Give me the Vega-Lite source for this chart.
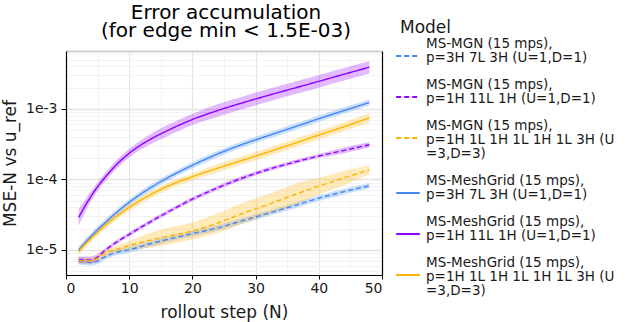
{
  "$schema": "https://vega.github.io/schema/vega-lite/v6.json",
  "width": 316,
  "height": 224,
  "autosize": {"type": "none"},
  "padding": {"left": 66, "top": 51, "right": 244, "bottom": 47},
  "background": "white",
  "config": {
    "font": "DejaVu Sans",
    "view": {"stroke": null},
    "axis": {"labelColor": "#1a1a1a", "titleColor": "#1a1a1a", "titleFontWeight": "normal", "domainColor": "#000000", "tickColor": "#000000"}
  },
  "title": {"text": ["Error accumulation", "(for edge min < 1.5E-03)"], "frame": "group", "fontSize": 20, "fontWeight": "normal", "lineHeight": 18, "offset": 12, "dy": 33, "color": "#000000", "dx": 2},
  "datasets": {
    "series": [
      {"Model": "MS-MGN (15 mps),\np=3H 7L 3H (U=1,D=1)", "N": 2, "v": 6.9e-6, "lo": 6.15e-6, "hi": 7.74e-6},
      {"Model": "MS-MGN (15 mps),\np=3H 7L 3H (U=1,D=1)", "N": 3, "v": 6.8e-6, "lo": 6.06e-6, "hi": 7.63e-6},
      {"Model": "MS-MGN (15 mps),\np=3H 7L 3H (U=1,D=1)", "N": 4, "v": 6.6e-6, "lo": 6.02e-6, "hi": 7.23e-6},
      {"Model": "MS-MGN (15 mps),\np=3H 7L 3H (U=1,D=1)", "N": 5, "v": 6.9e-6, "lo": 6.3e-6, "hi": 7.56e-6},
      {"Model": "MS-MGN (15 mps),\np=3H 7L 3H (U=1,D=1)", "N": 6, "v": 7.8e-6, "lo": 7.12e-6, "hi": 8.55e-6},
      {"Model": "MS-MGN (15 mps),\np=3H 7L 3H (U=1,D=1)", "N": 8, "v": 9.2e-6, "lo": 8.39e-6, "hi": 1.01e-5},
      {"Model": "MS-MGN (15 mps),\np=3H 7L 3H (U=1,D=1)", "N": 10, "v": 1.0e-5, "lo": 9.12e-6, "hi": 1.1e-5},
      {"Model": "MS-MGN (15 mps),\np=3H 7L 3H (U=1,D=1)", "N": 13, "v": 1.2e-5, "lo": 1.09e-5, "hi": 1.32e-5},
      {"Model": "MS-MGN (15 mps),\np=3H 7L 3H (U=1,D=1)", "N": 16, "v": 1.4e-5, "lo": 1.28e-5, "hi": 1.53e-5},
      {"Model": "MS-MGN (15 mps),\np=3H 7L 3H (U=1,D=1)", "N": 20, "v": 1.7e-5, "lo": 1.55e-5, "hi": 1.86e-5},
      {"Model": "MS-MGN (15 mps),\np=3H 7L 3H (U=1,D=1)", "N": 24, "v": 2.05e-5, "lo": 1.87e-5, "hi": 2.25e-5},
      {"Model": "MS-MGN (15 mps),\np=3H 7L 3H (U=1,D=1)", "N": 28, "v": 2.6e-5, "lo": 2.37e-5, "hi": 2.85e-5},
      {"Model": "MS-MGN (15 mps),\np=3H 7L 3H (U=1,D=1)", "N": 32, "v": 3.3e-5, "lo": 3.01e-5, "hi": 3.62e-5},
      {"Model": "MS-MGN (15 mps),\np=3H 7L 3H (U=1,D=1)", "N": 36, "v": 4.2e-5, "lo": 3.83e-5, "hi": 4.6e-5},
      {"Model": "MS-MGN (15 mps),\np=3H 7L 3H (U=1,D=1)", "N": 40, "v": 5.4e-5, "lo": 4.93e-5, "hi": 5.92e-5},
      {"Model": "MS-MGN (15 mps),\np=3H 7L 3H (U=1,D=1)", "N": 44, "v": 6.7e-5, "lo": 6.11e-5, "hi": 7.34e-5},
      {"Model": "MS-MGN (15 mps),\np=3H 7L 3H (U=1,D=1)", "N": 48, "v": 8.1e-5, "lo": 7.39e-5, "hi": 8.88e-5},

      {"Model": "MS-MGN (15 mps),\np=1H 11L 1H (U=1,D=1)", "N": 2, "v": 7.2e-6, "lo": 6.42e-6, "hi": 8.08e-6},
      {"Model": "MS-MGN (15 mps),\np=1H 11L 1H (U=1,D=1)", "N": 3, "v": 7.2e-6, "lo": 6.42e-6, "hi": 8.08e-6},
      {"Model": "MS-MGN (15 mps),\np=1H 11L 1H (U=1,D=1)", "N": 4, "v": 7.2e-6, "lo": 6.42e-6, "hi": 8.08e-6},
      {"Model": "MS-MGN (15 mps),\np=1H 11L 1H (U=1,D=1)", "N": 5, "v": 7.94e-6, "lo": 7.25e-6, "hi": 8.7e-6},
      {"Model": "MS-MGN (15 mps),\np=1H 11L 1H (U=1,D=1)", "N": 6, "v": 9.55e-6, "lo": 8.91e-6, "hi": 1.02e-5},
      {"Model": "MS-MGN (15 mps),\np=1H 11L 1H (U=1,D=1)", "N": 8, "v": 1.29e-5, "lo": 1.2e-5, "hi": 1.38e-5},
      {"Model": "MS-MGN (15 mps),\np=1H 11L 1H (U=1,D=1)", "N": 10, "v": 1.66e-5, "lo": 1.55e-5, "hi": 1.78e-5},
      {"Model": "MS-MGN (15 mps),\np=1H 11L 1H (U=1,D=1)", "N": 13, "v": 2.4e-5, "lo": 2.24e-5, "hi": 2.57e-5},
      {"Model": "MS-MGN (15 mps),\np=1H 11L 1H (U=1,D=1)", "N": 16, "v": 3.39e-5, "lo": 3.16e-5, "hi": 3.63e-5},
      {"Model": "MS-MGN (15 mps),\np=1H 11L 1H (U=1,D=1)", "N": 20, "v": 5.25e-5, "lo": 4.9e-5, "hi": 5.63e-5},
      {"Model": "MS-MGN (15 mps),\np=1H 11L 1H (U=1,D=1)", "N": 24, "v": 7.59e-5, "lo": 7.08e-5, "hi": 8.14e-5},
      {"Model": "MS-MGN (15 mps),\np=1H 11L 1H (U=1,D=1)", "N": 28, "v": 1.05e-4, "lo": 9.79e-5, "hi": 1.13e-4},
      {"Model": "MS-MGN (15 mps),\np=1H 11L 1H (U=1,D=1)", "N": 32, "v": 1.38e-4, "lo": 1.29e-4, "hi": 1.48e-4},
      {"Model": "MS-MGN (15 mps),\np=1H 11L 1H (U=1,D=1)", "N": 36, "v": 1.74e-4, "lo": 1.62e-4, "hi": 1.87e-4},
      {"Model": "MS-MGN (15 mps),\np=1H 11L 1H (U=1,D=1)", "N": 40, "v": 2.14e-4, "lo": 2.0e-4, "hi": 2.29e-4},
      {"Model": "MS-MGN (15 mps),\np=1H 11L 1H (U=1,D=1)", "N": 44, "v": 2.57e-4, "lo": 2.35e-4, "hi": 2.82e-4},
      {"Model": "MS-MGN (15 mps),\np=1H 11L 1H (U=1,D=1)", "N": 48, "v": 3.09e-4, "lo": 2.82e-4, "hi": 3.39e-4},

      {"Model": "MS-MGN (15 mps),\np=1H 1L 1H 1L 1H 1L 3H (U\n=3,D=3)", "N": 2, "v": 7.0e-6, "lo": 6.39e-6, "hi": 7.67e-6},
      {"Model": "MS-MGN (15 mps),\np=1H 1L 1H 1L 1H 1L 3H (U\n=3,D=3)", "N": 3, "v": 7.0e-6, "lo": 6.39e-6, "hi": 7.67e-6},
      {"Model": "MS-MGN (15 mps),\np=1H 1L 1H 1L 1H 1L 3H (U\n=3,D=3)", "N": 4, "v": 7.0e-6, "lo": 6.39e-6, "hi": 7.67e-6},
      {"Model": "MS-MGN (15 mps),\np=1H 1L 1H 1L 1H 1L 3H (U\n=3,D=3)", "N": 5, "v": 7.6e-6, "lo": 6.93e-6, "hi": 8.33e-6},
      {"Model": "MS-MGN (15 mps),\np=1H 1L 1H 1L 1H 1L 3H (U\n=3,D=3)", "N": 6, "v": 8.8e-6, "lo": 7.84e-6, "hi": 9.87e-6},
      {"Model": "MS-MGN (15 mps),\np=1H 1L 1H 1L 1H 1L 3H (U\n=3,D=3)", "N": 8, "v": 1.02e-5, "lo": 9.09e-6, "hi": 1.14e-5},
      {"Model": "MS-MGN (15 mps),\np=1H 1L 1H 1L 1H 1L 3H (U\n=3,D=3)", "N": 10, "v": 1.15e-5, "lo": 1.0e-5, "hi": 1.32e-5},
      {"Model": "MS-MGN (15 mps),\np=1H 1L 1H 1L 1H 1L 3H (U\n=3,D=3)", "N": 13, "v": 1.35e-5, "lo": 1.07e-5, "hi": 1.7e-5},
      {"Model": "MS-MGN (15 mps),\np=1H 1L 1H 1L 1H 1L 3H (U\n=3,D=3)", "N": 16, "v": 1.55e-5, "lo": 1.18e-5, "hi": 2.04e-5},
      {"Model": "MS-MGN (15 mps),\np=1H 1L 1H 1L 1H 1L 3H (U\n=3,D=3)", "N": 20, "v": 1.85e-5, "lo": 1.4e-5, "hi": 2.44e-5},
      {"Model": "MS-MGN (15 mps),\np=1H 1L 1H 1L 1H 1L 3H (U\n=3,D=3)", "N": 24, "v": 2.4e-5, "lo": 1.74e-5, "hi": 3.31e-5},
      {"Model": "MS-MGN (15 mps),\np=1H 1L 1H 1L 1H 1L 3H (U\n=3,D=3)", "N": 28, "v": 3.3e-5, "lo": 2.34e-5, "hi": 4.66e-5},
      {"Model": "MS-MGN (15 mps),\np=1H 1L 1H 1L 1H 1L 3H (U\n=3,D=3)", "N": 32, "v": 4.4e-5, "lo": 3.12e-5, "hi": 6.2e-5},
      {"Model": "MS-MGN (15 mps),\np=1H 1L 1H 1L 1H 1L 3H (U\n=3,D=3)", "N": 36, "v": 6.0e-5, "lo": 4.25e-5, "hi": 8.48e-5},
      {"Model": "MS-MGN (15 mps),\np=1H 1L 1H 1L 1H 1L 3H (U\n=3,D=3)", "N": 40, "v": 8.0e-5, "lo": 6.07e-5, "hi": 1.05e-4},
      {"Model": "MS-MGN (15 mps),\np=1H 1L 1H 1L 1H 1L 3H (U\n=3,D=3)", "N": 44, "v": 1.05e-4, "lo": 8.34e-5, "hi": 1.32e-4},
      {"Model": "MS-MGN (15 mps),\np=1H 1L 1H 1L 1H 1L 3H (U\n=3,D=3)", "N": 48, "v": 1.36e-4, "lo": 1.17e-4, "hi": 1.58e-4},

      {"Model": "MS-MeshGrid (15 mps),\np=3H 7L 3H (U=1,D=1)", "N": 2, "v": 1.0e-5, "lo": 9.0e-6, "hi": 1.11e-5},
      {"Model": "MS-MeshGrid (15 mps),\np=3H 7L 3H (U=1,D=1)", "N": 3, "v": 1.26e-5, "lo": 1.14e-5, "hi": 1.4e-5},
      {"Model": "MS-MeshGrid (15 mps),\np=3H 7L 3H (U=1,D=1)", "N": 4, "v": 1.57e-5, "lo": 1.42e-5, "hi": 1.74e-5},
      {"Model": "MS-MeshGrid (15 mps),\np=3H 7L 3H (U=1,D=1)", "N": 5, "v": 1.93e-5, "lo": 1.74e-5, "hi": 2.14e-5},
      {"Model": "MS-MeshGrid (15 mps),\np=3H 7L 3H (U=1,D=1)", "N": 6, "v": 2.34e-5, "lo": 2.11e-5, "hi": 2.6e-5},
      {"Model": "MS-MeshGrid (15 mps),\np=3H 7L 3H (U=1,D=1)", "N": 8, "v": 3.39e-5, "lo": 3.06e-5, "hi": 3.76e-5},
      {"Model": "MS-MeshGrid (15 mps),\np=3H 7L 3H (U=1,D=1)", "N": 10, "v": 4.72e-5, "lo": 4.26e-5, "hi": 5.23e-5},
      {"Model": "MS-MeshGrid (15 mps),\np=3H 7L 3H (U=1,D=1)", "N": 13, "v": 7.24e-5, "lo": 6.53e-5, "hi": 8.03e-5},
      {"Model": "MS-MeshGrid (15 mps),\np=3H 7L 3H (U=1,D=1)", "N": 16, "v": 1.04e-4, "lo": 9.38e-5, "hi": 1.15e-4},
      {"Model": "MS-MeshGrid (15 mps),\np=3H 7L 3H (U=1,D=1)", "N": 20, "v": 1.58e-4, "lo": 1.42e-4, "hi": 1.75e-4},
      {"Model": "MS-MeshGrid (15 mps),\np=3H 7L 3H (U=1,D=1)", "N": 24, "v": 2.29e-4, "lo": 2.06e-4, "hi": 2.54e-4},
      {"Model": "MS-MeshGrid (15 mps),\np=3H 7L 3H (U=1,D=1)", "N": 28, "v": 3.15e-4, "lo": 2.84e-4, "hi": 3.49e-4},
      {"Model": "MS-MeshGrid (15 mps),\np=3H 7L 3H (U=1,D=1)", "N": 32, "v": 4.16e-4, "lo": 3.75e-4, "hi": 4.61e-4},
      {"Model": "MS-MeshGrid (15 mps),\np=3H 7L 3H (U=1,D=1)", "N": 36, "v": 5.48e-4, "lo": 4.94e-4, "hi": 6.08e-4},
      {"Model": "MS-MeshGrid (15 mps),\np=3H 7L 3H (U=1,D=1)", "N": 40, "v": 7.23e-4, "lo": 6.52e-4, "hi": 8.02e-4},
      {"Model": "MS-MeshGrid (15 mps),\np=3H 7L 3H (U=1,D=1)", "N": 44, "v": 9.44e-4, "lo": 8.51e-4, "hi": 1.05e-3},
      {"Model": "MS-MeshGrid (15 mps),\np=3H 7L 3H (U=1,D=1)", "N": 48, "v": 1.23e-3, "lo": 1.11e-3, "hi": 1.36e-3},

      {"Model": "MS-MeshGrid (15 mps),\np=1H 11L 1H (U=1,D=1)", "N": 2, "v": 2.88e-5, "lo": 2.19e-5, "hi": 3.8e-5},
      {"Model": "MS-MeshGrid (15 mps),\np=1H 11L 1H (U=1,D=1)", "N": 3, "v": 4.17e-5, "lo": 3.39e-5, "hi": 5.13e-5},
      {"Model": "MS-MeshGrid (15 mps),\np=1H 11L 1H (U=1,D=1)", "N": 4, "v": 5.82e-5, "lo": 4.95e-5, "hi": 6.84e-5},
      {"Model": "MS-MeshGrid (15 mps),\np=1H 11L 1H (U=1,D=1)", "N": 5, "v": 7.85e-5, "lo": 6.84e-5, "hi": 9.01e-5},
      {"Model": "MS-MeshGrid (15 mps),\np=1H 11L 1H (U=1,D=1)", "N": 6, "v": 1.02e-4, "lo": 8.89e-5, "hi": 1.17e-4},
      {"Model": "MS-MeshGrid (15 mps),\np=1H 11L 1H (U=1,D=1)", "N": 8, "v": 1.62e-4, "lo": 1.41e-4, "hi": 1.86e-4},
      {"Model": "MS-MeshGrid (15 mps),\np=1H 11L 1H (U=1,D=1)", "N": 10, "v": 2.34e-4, "lo": 2.04e-4, "hi": 2.69e-4},
      {"Model": "MS-MeshGrid (15 mps),\np=1H 11L 1H (U=1,D=1)", "N": 13, "v": 3.55e-4, "lo": 3.02e-4, "hi": 4.17e-4},
      {"Model": "MS-MeshGrid (15 mps),\np=1H 11L 1H (U=1,D=1)", "N": 16, "v": 4.88e-4, "lo": 4.06e-4, "hi": 5.87e-4},
      {"Model": "MS-MeshGrid (15 mps),\np=1H 11L 1H (U=1,D=1)", "N": 20, "v": 7.05e-4, "lo": 5.87e-4, "hi": 8.47e-4},
      {"Model": "MS-MeshGrid (15 mps),\np=1H 11L 1H (U=1,D=1)", "N": 24, "v": 9.46e-4, "lo": 7.69e-4, "hi": 1.16e-3},
      {"Model": "MS-MeshGrid (15 mps),\np=1H 11L 1H (U=1,D=1)", "N": 28, "v": 1.22e-3, "lo": 9.92e-4, "hi": 1.5e-3},
      {"Model": "MS-MeshGrid (15 mps),\np=1H 11L 1H (U=1,D=1)", "N": 32, "v": 1.55e-3, "lo": 1.26e-3, "hi": 1.91e-3},
      {"Model": "MS-MeshGrid (15 mps),\np=1H 11L 1H (U=1,D=1)", "N": 36, "v": 1.95e-3, "lo": 1.59e-3, "hi": 2.4e-3},
      {"Model": "MS-MeshGrid (15 mps),\np=1H 11L 1H (U=1,D=1)", "N": 40, "v": 2.45e-3, "lo": 1.99e-3, "hi": 3.01e-3},
      {"Model": "MS-MeshGrid (15 mps),\np=1H 11L 1H (U=1,D=1)", "N": 44, "v": 3.09e-3, "lo": 2.51e-3, "hi": 3.8e-3},
      {"Model": "MS-MeshGrid (15 mps),\np=1H 11L 1H (U=1,D=1)", "N": 48, "v": 3.89e-3, "lo": 3.16e-3, "hi": 4.78e-3},

      {"Model": "MS-MeshGrid (15 mps),\np=1H 1L 1H 1L 1H 1L 3H (U\n=3,D=3)", "N": 2, "v": 9.55e-6, "lo": 8.51e-6, "hi": 1.07e-5},
      {"Model": "MS-MeshGrid (15 mps),\np=1H 1L 1H 1L 1H 1L 3H (U\n=3,D=3)", "N": 3, "v": 1.19e-5, "lo": 1.06e-5, "hi": 1.34e-5},
      {"Model": "MS-MeshGrid (15 mps),\np=1H 1L 1H 1L 1H 1L 3H (U\n=3,D=3)", "N": 4, "v": 1.46e-5, "lo": 1.3e-5, "hi": 1.64e-5},
      {"Model": "MS-MeshGrid (15 mps),\np=1H 1L 1H 1L 1H 1L 3H (U\n=3,D=3)", "N": 5, "v": 1.78e-5, "lo": 1.59e-5, "hi": 2.0e-5},
      {"Model": "MS-MeshGrid (15 mps),\np=1H 1L 1H 1L 1H 1L 3H (U\n=3,D=3)", "N": 6, "v": 2.14e-5, "lo": 1.91e-5, "hi": 2.4e-5},
      {"Model": "MS-MeshGrid (15 mps),\np=1H 1L 1H 1L 1H 1L 3H (U\n=3,D=3)", "N": 8, "v": 2.98e-5, "lo": 2.66e-5, "hi": 3.34e-5},
      {"Model": "MS-MeshGrid (15 mps),\np=1H 1L 1H 1L 1H 1L 3H (U\n=3,D=3)", "N": 10, "v": 4.0e-5, "lo": 3.57e-5, "hi": 4.49e-5},
      {"Model": "MS-MeshGrid (15 mps),\np=1H 1L 1H 1L 1H 1L 3H (U\n=3,D=3)", "N": 13, "v": 5.81e-5, "lo": 5.18e-5, "hi": 6.52e-5},
      {"Model": "MS-MeshGrid (15 mps),\np=1H 1L 1H 1L 1H 1L 3H (U\n=3,D=3)", "N": 16, "v": 7.92e-5, "lo": 7.06e-5, "hi": 8.89e-5},
      {"Model": "MS-MeshGrid (15 mps),\np=1H 1L 1H 1L 1H 1L 3H (U\n=3,D=3)", "N": 20, "v": 1.09e-4, "lo": 9.71e-5, "hi": 1.22e-4},
      {"Model": "MS-MeshGrid (15 mps),\np=1H 1L 1H 1L 1H 1L 3H (U\n=3,D=3)", "N": 24, "v": 1.44e-4, "lo": 1.25e-4, "hi": 1.65e-4},
      {"Model": "MS-MeshGrid (15 mps),\np=1H 1L 1H 1L 1H 1L 3H (U\n=3,D=3)", "N": 28, "v": 1.87e-4, "lo": 1.63e-4, "hi": 2.15e-4},
      {"Model": "MS-MeshGrid (15 mps),\np=1H 1L 1H 1L 1H 1L 3H (U\n=3,D=3)", "N": 32, "v": 2.44e-4, "lo": 2.13e-4, "hi": 2.8e-4},
      {"Model": "MS-MeshGrid (15 mps),\np=1H 1L 1H 1L 1H 1L 3H (U\n=3,D=3)", "N": 36, "v": 3.21e-4, "lo": 2.8e-4, "hi": 3.69e-4},
      {"Model": "MS-MeshGrid (15 mps),\np=1H 1L 1H 1L 1H 1L 3H (U\n=3,D=3)", "N": 40, "v": 4.24e-4, "lo": 3.69e-4, "hi": 4.87e-4},
      {"Model": "MS-MeshGrid (15 mps),\np=1H 1L 1H 1L 1H 1L 3H (U\n=3,D=3)", "N": 44, "v": 5.58e-4, "lo": 4.86e-4, "hi": 6.41e-4},
      {"Model": "MS-MeshGrid (15 mps),\np=1H 1L 1H 1L 1H 1L 3H (U\n=3,D=3)", "N": 48, "v": 7.43e-4, "lo": 6.32e-4, "hi": 8.73e-4}
    ]
  },
  "data": {"name": "series"},
  "layer": [
    {
      "mark": {"type": "area", "opacity": 0.27, "interpolate": "monotone"},
      "encoding": {
        "x": {"field": "N", "type": "quantitative", "scale": {"domain": [0, 50], "nice": false, "zero": false},
          "axis": {"orient": "top", "values": [5, 15, 25, 35, 45], "grid": true, "gridColor": "#f3f3f3", "gridWidth": 1, "labels": false, "ticks": false, "domain": true, "domainColor": "#d0d0d0", "domainWidth": 2, "title": null}},
        "y": {"field": "lo", "type": "quantitative", "scale": {"type": "log", "domain": [4.4e-6, 6.6e-3], "nice": false},
          "axis": {"orient": "right", "values": [5e-6, 6e-6, 7e-6, 8e-6, 9e-6, 2e-5, 3e-5, 4e-5, 5e-5, 6e-5, 7e-5, 8e-5, 9e-5, 2e-4, 3e-4, 4e-4, 5e-4, 6e-4, 7e-4, 8e-4, 9e-4, 2e-3, 3e-3, 4e-3, 5e-3, 6e-3], "grid": true, "gridColor": "#f3f3f3", "gridWidth": 1, "labels": false, "ticks": false, "domain": true, "domainColor": "#000000", "domainWidth": 1.2, "title": null}},
        "y2": {"field": "hi"},
        "color": {"field": "Model", "type": "nominal"}
      }
    },
    {
      "mark": {"type": "line", "strokeWidth": 1.4, "interpolate": "monotone"},
      "encoding": {
        "x": {"field": "N", "type": "quantitative",
          "axis": {"orient": "bottom", "values": [0, 10, 20, 30, 40, 50], "grid": true, "gridColor": "#e4e4e4", "gridWidth": 1.2, "tickSize": 4, "labelFontSize": 14, "labelPadding": 2, "domainWidth": 1.2, "title": "rollout step (N)", "titleFontSize": 17, "titlePadding": 9}},
        "y": {"field": "v", "type": "quantitative",
          "axis": {"orient": "left", "values": [1e-5, 1e-4, 1e-3], "labelExpr": "'1e' + round(log(datum.value) / LN10)", "grid": true, "gridColor": "#e4e4e4", "gridWidth": 1.5, "tickSize": 5, "labelFontSize": 14, "labelPadding": 4, "domainWidth": 1.2, "title": "MSE-N vs u_ref", "titleFontSize": 17, "titlePadding": 6}},
        "color": {"field": "Model", "type": "nominal",
          "scale": {"domain": ["MS-MGN (15 mps),\np=3H 7L 3H (U=1,D=1)", "MS-MGN (15 mps),\np=1H 11L 1H (U=1,D=1)", "MS-MGN (15 mps),\np=1H 1L 1H 1L 1H 1L 3H (U\n=3,D=3)", "MS-MeshGrid (15 mps),\np=3H 7L 3H (U=1,D=1)", "MS-MeshGrid (15 mps),\np=1H 11L 1H (U=1,D=1)", "MS-MeshGrid (15 mps),\np=1H 1L 1H 1L 1H 1L 3H (U\n=3,D=3)"],
            "range": ["#4287f5", "#8f00ff", "#ffb300", "#4287f5", "#8f00ff", "#ffb300"]},
          "legend": {"title": "Model", "orient": "none", "legendX": 329, "legendY": -31, "symbolType": "stroke", "symbolSize": 560, "symbolStrokeWidth": 2, "labelExpr": "split(datum.label, '\\n')", "labelFontSize": 13.5, "labelColor": "#1a1a1a", "labelLimit": 0, "labelOffset": 5, "titleFontSize": 17, "titleFontWeight": "normal", "titleColor": "#1a1a1a", "titlePadding": 6, "rowPadding": 13,
            "encode": {"labels": {"update": {"lineHeight": {"value": 14}, "dy": {"value": -12}}}, "title": {"update": {"dx": {"value": 5}}}}}},
        "strokeDash": {"field": "Model", "type": "nominal",
          "scale": {"domain": ["MS-MGN (15 mps),\np=3H 7L 3H (U=1,D=1)", "MS-MGN (15 mps),\np=1H 11L 1H (U=1,D=1)", "MS-MGN (15 mps),\np=1H 1L 1H 1L 1H 1L 3H (U\n=3,D=3)", "MS-MeshGrid (15 mps),\np=3H 7L 3H (U=1,D=1)", "MS-MeshGrid (15 mps),\np=1H 11L 1H (U=1,D=1)", "MS-MeshGrid (15 mps),\np=1H 1L 1H 1L 1H 1L 3H (U\n=3,D=3)"],
            "range": [[5, 3], [5, 3], [5, 3], [1, 0], [1, 0], [1, 0]]}}
      }
    }
  ],
  "resolve": {"axis": {"x": "independent", "y": "independent"}}
}
